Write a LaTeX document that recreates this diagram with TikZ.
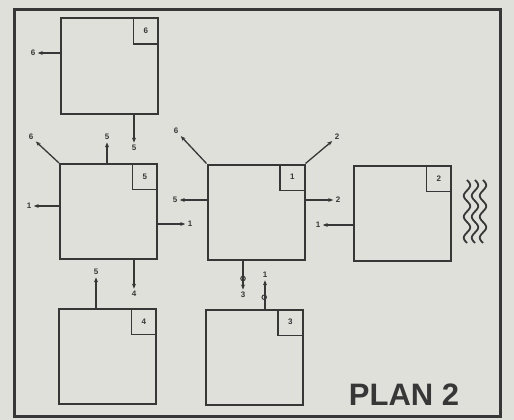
\documentclass[tikz,border=0pt]{standalone}
\usepackage{fontspec}
\setmainfont{Liberation Sans}
\usetikzlibrary{arrows.meta}
\definecolor{paper}{RGB}{224,224,219}
\definecolor{ink}{RGB}{55,55,55}
\tikzset{
  room/.style={draw=ink, line width=2pt, minimum width=97pt, minimum height=95pt, inner sep=0pt},
  tag/.style={draw=ink, line width=1.2pt, minimum width=25pt, minimum height=26pt, inner sep=0pt, anchor=north east, font=\fontsize{8}{9}\selectfont\bfseries, text=ink},
  lab/.style={inner sep=2.4pt, font=\fontsize{8}{9}\selectfont\bfseries, text=ink},
  arr/.style={draw=ink, line width=1.3pt, -{Stealth[length=5pt,width=4pt]}},
  loopy/.style={circle, draw=ink, line width=1pt, inner sep=0pt, minimum size=4.5pt},
  wave/.style={draw=ink, line width=1.8pt}
}
\begin{document}
\begin{tikzpicture}[x=1pt,y=-1pt]
\fill[paper] (0,0) rectangle (514,420);
\useasboundingbox (0,0) rectangle (514,420);
\draw[ink, line width=3pt] (14,10) rectangle (500,416.5);

% rooms
\node[room] (b6) at (109.5,66) {};
\node[room] (b5) at (108.5,211.5) {};
\node[room] (b1) at (256,212) {};
\node[room] (b2) at (402.5,213.5) {};
\node[room] (b4) at (107.5,356.5) {};
\node[room] (b3) at (254,357) {};

\node[tag] (t6) at (b6.north east) {6};
\node[tag] (t5) at (b5.north east) {5};
\node[tag] (t1) at (b1.north east) {1};
\node[tag] (t2) at (b2.north east) {2};
\node[tag] (t4) at (b4.north east) {4};
\node[tag] (t3) at (b3.north east) {3};

% labels
\node[lab] (l6w) at (33,53) {6};
\node[lab] (l6s) at (134,148) {5};
\node[lab] (l5nw) at (31,137) {6};
\node[lab] (l5n) at (107,137) {5};
\node[lab] (l5w) at (29,206) {1};
\node[lab] (l5e) at (190,224) {1};
\node[lab] (l5s) at (134,294) {4};
\node[lab] (l4n) at (96,272) {5};
\node[lab] (l1nw) at (176,131) {6};
\node[lab] (l1ne) at (337,137) {2};
\node[lab] (l1w) at (175,200) {5};
\node[lab] (l1e) at (338,200) {2};
\node[lab] (l1s) at (243,295) {3};
\node[lab] (l3n) at (265,275) {1};
\node[lab] (l2w) at (318,225) {1};

% connectors
\draw[arr] (b6.west |- l6w) -- (l6w);
\draw[arr] (b6.south -| l6s) -- (l6s);
\draw[arr] (b5.north west) -- (l5nw);
\draw[arr] (b5.north -| l5n) -- (l5n);
\draw[arr] (b5.west |- l5w) -- (l5w);
\draw[arr] (b5.east |- l5e) -- (l5e);
\draw[arr] (b5.south -| l5s) -- (l5s);
\draw[arr] (b4.north -| l4n) -- (l4n);
\draw[arr] (b1.north west) -- (l1nw);
\draw[arr] (b1.north east) -- (l1ne);
\draw[arr] (b1.west |- l1w) -- (l1w);
\draw[arr] (b1.east |- l1e) -- (l1e);
\draw[arr] (b1.south -| l1s) -- (l1s) node[loopy, pos=0.62] {};
\draw[arr] (b3.north -| l3n) -- (l3n) node[loopy, pos=0.4, xshift=-0.8pt] {};
\draw[arr] (b2.west |- l2w) -- (l2w);

% heat waves
\foreach \xx in {467,475,483}{
  \draw[wave] plot[domain=0:63, samples=80, smooth] ({\xx+3.2*sin(\x*17.142857)},{180+\x});
}

\node[font=\fontsize{31}{31}\selectfont\bfseries, text=ink, inner sep=0pt] (title) at (404,395) {PLAN 2};
\end{tikzpicture}
\end{document}
